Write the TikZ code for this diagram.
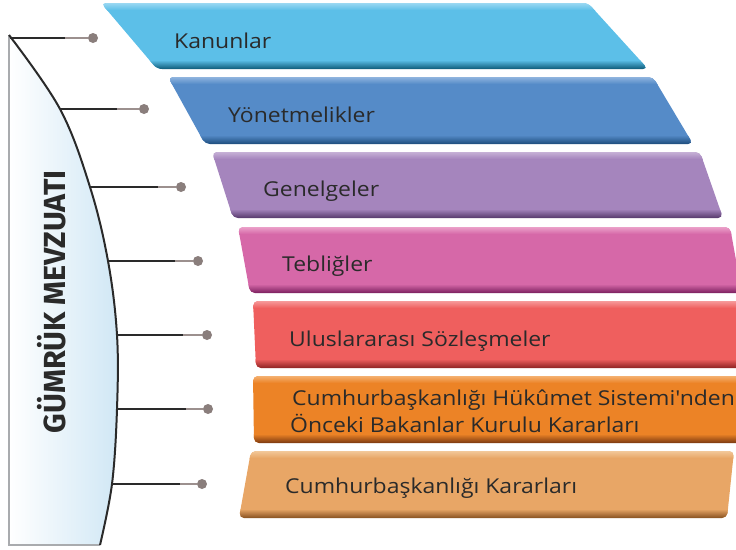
\documentclass[tikz,border=0pt]{standalone}
\usepackage{fontspec}
\setmainfont{Open Sans}[Ligatures=TeXOff]
\newfontfamily\titlefont{Fira Sans}
\definecolor{txt}{HTML}{2A2A2A}
\definecolor{dotc}{HTML}{8A7E7C}
\definecolor{greyline}{HTML}{9C908E}
\definecolor{panelblue}{HTML}{D0E7F5}
\definecolor{panelgrey}{HTML}{A9ABAE}
\definecolor{cA}{HTML}{5CBFE8}\definecolor{cAd}{HTML}{0D5A78}\definecolor{cAl}{HTML}{9AD8F2}
\definecolor{cB}{HTML}{558BC8}\definecolor{cBd}{HTML}{1D4C7C}\definecolor{cBl}{HTML}{8FB4DE}
\definecolor{cC}{HTML}{A585BD}\definecolor{cCd}{HTML}{55386B}\definecolor{cCl}{HTML}{C6B0D6}
\definecolor{cD}{HTML}{D668A8}\definecolor{cDd}{HTML}{7A1F5E}\definecolor{cDl}{HTML}{EBA0C9}
\definecolor{cE}{HTML}{EF5F5E}\definecolor{cEd}{HTML}{8C2222}\definecolor{cEl}{HTML}{F6999A}
\definecolor{cF}{HTML}{EC8326}\definecolor{cFd}{HTML}{7A3810}\definecolor{cFl}{HTML}{F4B070}
\definecolor{cG}{HTML}{E8A666}\definecolor{cGd}{HTML}{86501F}\definecolor{cGl}{HTML}{F2C899}
\newcommand\drawbar[9]{%
  \begin{scope}
    \clip[rounded corners=5pt] (#3,#1) -- (#4,#1) -- (#5,#2) -- (#6,#2) -- cycle;
    \fill[#7] (0,#1) rectangle (800,#2);
    \shade[top color=#9, bottom color=#7] (0,#1) rectangle (800,#1+7);
    \shade[top color=#7, bottom color=#8] (0,#2-9) rectangle (800,#2);
  \end{scope}}
\tikzset{
  lab/.style={anchor=base west, inner sep=0pt, text=txt, xscale=1.12, font=\fontsize{20.5}{24}\selectfont},
  dot/.style={circle, fill=dotc, inner sep=0pt, minimum size=10pt},
  conn/.style={draw=txt, line width=2pt},
  conng/.style={draw=greyline, line width=2pt},
  titletext/.style={inner sep=0pt, text=txt, font=\titlefont\fontsize{30.5}{33}\selectfont\bfseries}
}
\begin{document}
\begin{tikzpicture}[x=1pt,y=-1pt]
\useasboundingbox (0,0) rectangle (736,549);
% left panel
\shade[left color=white, right color=panelblue]
  (9,545) -- plot[smooth,tension=0.6] coordinates {(9,35) (60,109) (90,187) (108,261) (117,335) (117,409) (112,484) (100,545)} -- cycle;
\draw[panelgrey, line width=1.5pt] (9,35) -- (9,545) -- (100,545);
\draw[txt, line width=2pt] plot[smooth,tension=0.6] coordinates {(9,35) (60,109) (90,187) (108,261) (117,335) (117,409) (112,484) (100,545)};
\node[titletext, rotate=90] (title) at (52,302) {GÜMRÜK MEVZUATI};
% bars
\drawbar{3}{69}{101}{588}{648}{157}{cA}{cAd}{cAl}
\drawbar{77}{144}{168}{653}{693}{205}{cB}{cBd}{cBl}
\drawbar{152}{218}{212}{700}{723}{233}{cC}{cCd}{cCl}
\drawbar{227}{293}{238}{730}{742}{250}{cD}{cDd}{cDl}
\drawbar{301}{368}{253}{750}{750}{256}{cE}{cEd}{cEl}
\drawbar{376}{443}{253}{750}{750}{254}{cF}{cFd}{cFl}
\drawbar{451}{518}{251}{734}{727}{239}{cG}{cGd}{cGl}
% labels
\node[lab] (t1) at (174,48) {Kanunlar};
\node[lab] (t2) at (228,122) {Yönetmelikler};
\node[lab] (t3) at (263,196) {Genelgeler};
\node[lab] (t4) at (282,271) {Tebliğler};
\node[lab] (t5) at (289,346) {Uluslararası Sözleşmeler};
\node[lab] (t6a) at (292,405) {Cumhurbaşkanlığı Hükûmet Sistemi'nden};
\node[lab] (t6b) at (290,432) {Önceki Bakanlar Kurulu Kararları};
\node[lab] (t7) at (285,493) {Cumhurbaşkanlığı Kararları};
% connectors
\coordinate (s1) at (10,38);  \coordinate (g1) at (65,38);   \node[dot] (d1) at (93,38) {};
\coordinate (s2) at (60,109); \coordinate (g2) at (117,109); \node[dot] (d2) at (144,109) {};
\coordinate (s3) at (90,187); \coordinate (g3) at (158,187); \node[dot] (d3) at (181,187) {};
\coordinate (s4) at (108,261);\coordinate (g4) at (175,261); \node[dot] (d4) at (198,261) {};
\coordinate (s5) at (117,335);\coordinate (g5) at (183,335); \node[dot] (d5) at (207,335) {};
\coordinate (s6) at (117,409);\coordinate (g6) at (186,409); \node[dot] (d6) at (208,409) {};
\coordinate (s7) at (112,484);\coordinate (g7) at (180,484); \node[dot] (d7) at (202,484) {};
\foreach \i in {1,...,7}{
  \draw[conn] (s\i) -- (g\i);
  \draw[conng] (g\i) -- (d\i);
}
\end{tikzpicture}
\end{document}
